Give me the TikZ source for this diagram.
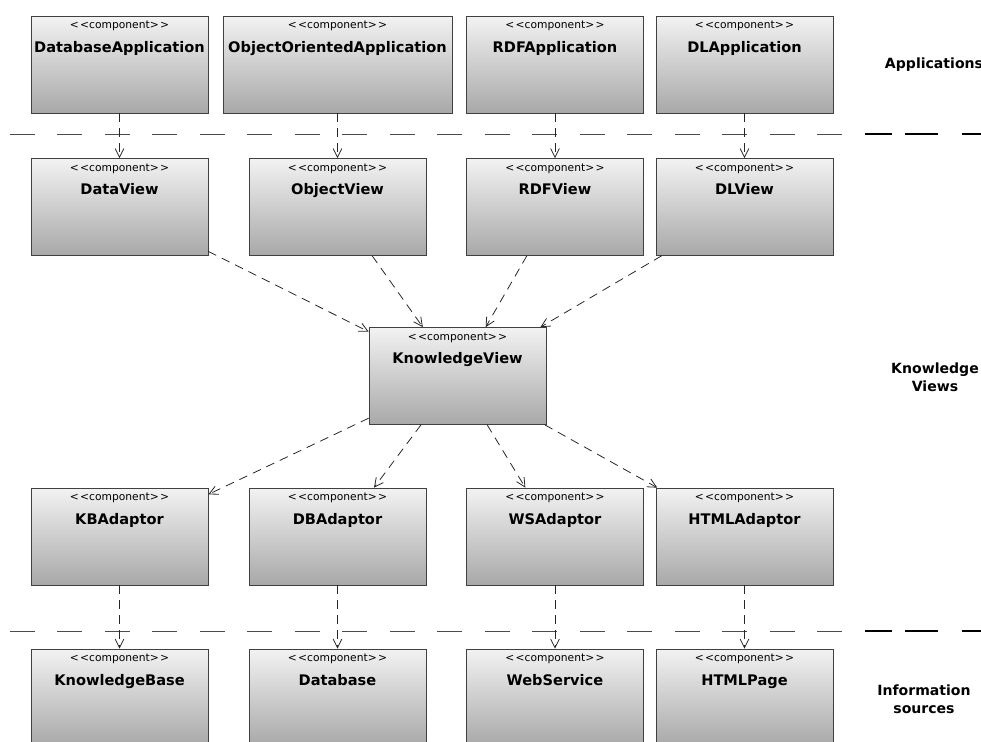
\documentclass[tikz,border=0pt]{standalone}
\usepackage{fontspec}
\setmainfont{DejaVu Sans}
\usetikzlibrary{arrows.meta}

\tikzset{
	comp/.style={rectangle, draw=black!75, top color=gray!10, bottom color=gray!68,
		minimum width=3.54cm, minimum height=1.94cm, inner sep=0pt},
	widecomp/.style={comp, minimum width=4.58cm},
	ctext/.style={anchor=north, align=center, inner sep=0pt, yshift=-3pt},
	dep/.style={draw=black!85, line width=0.45pt, dash pattern=on 5pt off 3.5pt,
		-{Straight Barb[length=5pt,width=5pt]}},
	sep/.style={black!70, line width=0.5pt, dash pattern=on 0.5cm off 0.45cm},
	sepend/.style={black, line width=1pt},
	layer/.style={font=\bfseries\fontsize{8}{10}\selectfont, align=center},
}
\newcommand{\comptext}[1]{{\fontsize{6.1}{7}\selectfont <\kern0.8pt<component>\kern0.8pt>}\\[1.4pt]{\fontsize{8.3}{9}\selectfont\bfseries #1}}

\begin{document}
\begin{tikzpicture}[x=0.02cm,y=-0.02cm]
		\useasboundingbox (0,0) rectangle (981,742);
		% applications
		\node[comp, label={[ctext]north:\comptext{DatabaseApplication}}] (dbapp) at (119.5,64.5) {};
		\node[widecomp, label={[ctext]north:\comptext{ObjectOrientedApplication}}] (ooapp) at (337.5,64.5) {};
		\node[comp, label={[ctext]north:\comptext{RDFApplication}}] (rdfapp) at (555,64.5) {};
		\node[comp, label={[ctext]north:\comptext{DLApplication}}] (dlapp) at (744.5,64.5) {};
		% views
		\node[comp, label={[ctext]north:\comptext{DataView}}] (dataview) at (119.5,207) {};
		\node[comp, label={[ctext]north:\comptext{ObjectView}}] (objview) at (337.5,207) {};
		\node[comp, label={[ctext]north:\comptext{RDFView}}] (rdfview) at (555,207) {};
		\node[comp, label={[ctext]north:\comptext{DLView}}] (dlview) at (744.5,207) {};
		\node[comp, label={[ctext]north:\comptext{KnowledgeView}}] (kview) at (457.5,376) {};
		% adaptors
		\node[comp, label={[ctext]north:\comptext{KBAdaptor}}] (kbadapt) at (119.5,536.5) {};
		\node[comp, label={[ctext]north:\comptext{DBAdaptor}}] (dbadapt) at (337.5,536.5) {};
		\node[comp, label={[ctext]north:\comptext{WSAdaptor}}] (wsadapt) at (555,536.5) {};
		\node[comp, label={[ctext]north:\comptext{HTMLAdaptor}}] (htmladapt) at (744.5,536.5) {};
		% sources
		\node[comp, label={[ctext]north:\comptext{KnowledgeBase}}] (kbase) at (119.5,697.5) {};
		\node[comp, label={[ctext]north:\comptext{Database}}] (dbase) at (337.5,697.5) {};
		\node[comp, label={[ctext]north:\comptext{WebService}}] (wservice) at (555,697.5) {};
		\node[comp, label={[ctext]north:\comptext{HTMLPage}}] (htmlpage) at (744.5,697.5) {};
		% layer names
		\node[layer] (applications) at (934,65) {Applications};
		\node[layer] (kviews) at (935,377) {Knowledge\\Views};
		\node[layer] (isources) at (924,699) {Information\\sources};
		% layer borders
		\draw[sep] (10,134)--(860,134);
		\draw[sep] (10,631)--(860,631);
		\foreach \a/\b in {865/892,905/938,962/981}
		{
			\draw[sepend] (\a,134)--(\b,134);
			\draw[sepend] (\a,631)--(\b,631);
		}
		% dependencies
		\draw[dep] (dbapp)--(dataview);
		\draw[dep] (ooapp)--(objview);
		\draw[dep] (rdfapp)--(rdfview);
		\draw[dep] (dlapp)--(dlview);
		\draw[dep] (dataview)--(kview);
		\draw[dep] (objview)--(kview);
		\draw[dep] (rdfview)--(kview);
		\draw[dep] (dlview)--(kview);
		\draw[dep] (kview)--(kbadapt);
		\draw[dep] (kview)--(dbadapt);
		\draw[dep] (kview)--(wsadapt);
		\draw[dep] (kview)--(htmladapt);
		\draw[dep] (kbadapt)--(kbase);
		\draw[dep] (dbadapt)--(dbase);
		\draw[dep] (wsadapt)--(wservice);
		\draw[dep] (htmladapt)--(htmlpage);
\end{tikzpicture}
\end{document}
